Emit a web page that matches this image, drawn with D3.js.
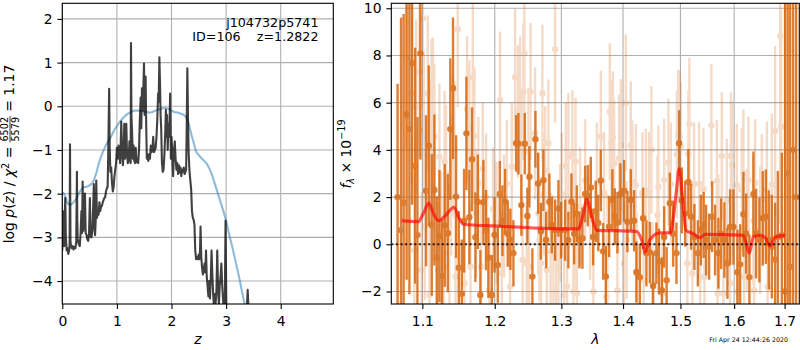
<!DOCTYPE html>
<html>
<head>
<meta charset="utf-8">
<script src="https://cdn.jsdelivr.net/npm/d3@7"></script>
<style>
html, body { margin: 0; padding: 0; background: #ffffff; }
svg { display: block; font-family: "DejaVu Sans", sans-serif; }
</style>
</head>
<body>
<svg id="fig" width="800" height="350"></svg>
<script>
// ---------- redshift probability panel ----------
const pzZ = [0.000,0.008,0.015,0.025,0.035,0.045,0.055,0.065,0.080,0.095,0.110,0.125,0.134,0.141,0.150,0.160,0.175,0.190,0.205,0.220,0.240,0.255,0.268,0.275,0.282,0.300,0.320,0.335,0.350,0.362,0.372,0.385,0.400,0.415,0.428,0.445,0.460,0.475,0.490,0.505,0.518,0.535,0.550,0.565,0.578,0.590,0.600,0.612,0.622,0.635,0.650,0.665,0.680,0.695,0.710,0.725,0.740,0.755,0.770,0.785,0.800,0.815,0.830,0.842,0.858,0.868,0.880,0.895,0.910,0.925,0.940,0.955,0.970,0.985,1.000,1.015,1.030,1.045,1.058,1.068,1.080,1.095,1.110,1.122,1.135,1.148,1.160,1.172,1.185,1.200,1.215,1.230,1.245,1.252,1.258,1.266,1.278,1.292,1.305,1.318,1.332,1.345,1.360,1.375,1.390,1.405,1.420,1.435,1.447,1.459,1.470,1.482,1.496,1.508,1.516,1.526,1.536,1.548,1.560,1.575,1.590,1.605,1.620,1.635,1.650,1.665,1.680,1.695,1.710,1.725,1.740,1.755,1.765,1.778,1.790,1.800,1.812,1.825,1.840,1.855,1.870,1.885,1.897,1.908,1.918,1.930,1.945,1.960,1.975,1.988,2.000,2.015,2.030,2.045,2.060,2.075,2.090,2.105,2.120,2.135,2.150,2.165,2.180,2.195,2.210,2.225,2.240,2.255,2.268,2.278,2.290,2.302,2.315,2.330,2.345,2.360,2.375,2.390,2.405,2.420,2.435,2.450,2.465,2.480,2.495,2.510,2.522,2.532,2.545,2.560,2.575,2.590,2.605,2.620,2.632,2.645,2.660,2.675,2.690,2.705,2.720,2.733,2.748,2.763,2.778,2.793,2.808,2.823,2.838,2.853,2.868,2.883,2.898,2.913,2.928,2.943,2.958,2.973,2.990,3.005,3.020,3.100,3.200,3.300,3.370,3.395,3.420,3.500];
const pzLogp = [-3.30,-2.40,-3.10,-2.80,-3.20,-2.45,-2.10,-3.00,-3.30,-3.25,-3.38,-3.30,-3.15,-0.87,-3.10,-3.20,-3.25,-3.20,-3.28,-3.22,-3.25,-3.10,-1.50,-2.60,-3.05,-3.15,-3.20,-2.90,-2.40,-2.90,-1.72,-2.85,-2.60,-2.00,-2.90,-2.95,-3.05,-3.08,-2.90,-2.10,-2.98,-3.00,-2.85,-2.30,-1.78,-2.80,-2.95,-2.60,-1.70,-2.55,-2.45,-2.48,-2.20,-2.40,-2.30,-2.28,-2.20,-2.15,-2.10,-2.08,-1.95,-1.88,-1.85,-1.00,0.40,-0.95,-1.50,-1.40,-1.75,-1.95,-1.85,-1.60,-1.45,-1.30,-0.95,-1.20,-0.90,-1.05,-1.30,-0.95,-0.35,-1.10,-1.35,-1.10,-0.40,-1.20,-1.00,-0.40,-1.10,-1.30,-1.25,-0.80,-1.20,-1.30,1.45,-0.20,-0.60,-1.20,-0.90,-1.25,-1.30,-0.95,-1.28,-1.20,-1.30,-1.00,-0.30,0.20,-0.50,0.41,-0.10,0.30,0.98,-0.20,0.10,0.68,-0.40,-1.20,-1.10,-1.25,-1.10,-1.20,-0.90,-1.05,-1.00,-0.70,-1.05,-1.00,-0.95,-0.70,-0.30,0.30,0.10,1.12,0.50,-0.20,-0.55,-1.30,-1.50,-1.45,-1.10,-0.60,-0.08,-0.70,-0.20,-1.00,-0.40,-0.70,0.29,-1.20,-0.70,-1.10,-1.60,-1.00,-0.80,-1.20,-1.45,-1.30,-1.55,-1.35,-1.52,-1.40,-1.60,-1.45,-1.50,-1.40,-1.55,-1.50,-1.45,-0.50,0.87,-0.30,-1.10,-1.50,-1.70,-1.90,-2.40,-2.55,-2.60,-2.70,-3.30,-3.50,-3.45,-3.50,-3.40,-3.50,-3.30,-2.75,-3.45,-3.70,-3.85,-3.75,-3.60,-3.80,-3.30,-3.90,-4.10,-4.35,-4.00,-4.40,-3.90,-3.30,-3.85,-4.30,-4.60,-4.30,-4.50,-4.20,-3.30,-4.20,-4.55,-4.10,-3.90,-3.60,-4.10,-4.40,-4.70,-4.80,-2.62,-4.70,-5.20,-5.50,-5.60,-5.40,-4.90,-4.20,-4.90,-6.00];

const priorZ = [0.00,0.02,0.05,0.08,0.11,0.15,0.19,0.23,0.27,0.31,0.35,0.39,0.43,0.47,0.51,0.55,0.59,0.63,0.67,0.71,0.75,0.79,0.83,0.87,0.91,0.95,0.99,1.03,1.07,1.11,1.15,1.19,1.23,1.27,1.31,1.35,1.40,1.45,1.50,1.55,1.60,1.65,1.70,1.75,1.80,1.85,1.90,1.95,2.00,2.05,2.10,2.15,2.20,2.25,2.29,2.32,2.35,2.38,2.41,2.45,2.50,2.55,2.60,2.65,2.70,2.75,2.80,2.85,2.90,2.95,3.00,3.05,3.10,3.15,3.20,3.25,3.30,3.35,3.40,3.45];
const priorLogp = [-2.00,-1.98,-2.05,-2.18,-2.24,-2.25,-2.22,-2.17,-2.08,-1.98,-1.90,-1.85,-1.85,-1.83,-1.80,-1.76,-1.65,-1.50,-1.30,-1.15,-1.02,-0.92,-0.82,-0.75,-0.65,-0.55,-0.47,-0.40,-0.33,-0.27,-0.22,-0.18,-0.15,-0.12,-0.10,-0.10,-0.10,-0.11,-0.12,-0.13,-0.15,-0.13,-0.10,-0.08,-0.06,-0.04,-0.04,-0.06,-0.10,-0.13,-0.14,-0.16,-0.18,-0.22,-0.30,-0.42,-0.58,-0.72,-0.85,-1.04,-1.12,-1.19,-1.25,-1.32,-1.44,-1.60,-1.80,-2.00,-2.20,-2.40,-2.62,-2.90,-3.15,-3.42,-3.70,-3.98,-4.30,-4.60,-4.90,-5.20];

const pzTicksX = [0, 1, 2, 3, 4];
const pzTicksY = [-4, -3, -2, -1, 0, 1, 2];

// ---------- spectrum panel ----------
// full-resolution extracted spectrum
const specWave = [1.0677,1.0722,1.0755,1.0794,1.0830,1.0865,1.0905,1.0935,1.0974,1.1049,1.1085,1.1125,1.1160,1.1192,1.1228,1.1264,1.1300,1.1341,1.1376,1.1413,1.1455,1.1492,1.1534,1.1566,1.1598,1.1639,1.1677,1.1724,1.1758,1.1794,1.1837,1.1875,1.1908,1.1957,1.1997,1.2044,1.2073,1.2111,1.2150,1.2189,1.2227,1.2272,1.2312,1.2346,1.2390,1.2441,1.2480,1.2510,1.2555,1.2601,1.2642,1.2683,1.2722,1.2764,1.2814,1.2851,1.2903,1.2954,1.2996,1.3059,1.3110,1.3158,1.3201,1.3244,1.3285,1.3333,1.3377,1.3420,1.3468,1.3506,1.3549,1.3590,1.3631,1.3669,1.3713,1.3768,1.3822,1.3862,1.3906,1.3956,1.4018,1.4074,1.4131,1.4187,1.4227,1.4285,1.4342,1.4399,1.4458,1.4516,1.4573,1.4617,1.4668,1.4709,1.4753,1.4810,1.4869,1.4928,1.4976,1.5025,1.5085,1.5144,1.5193,1.5254,1.5317,1.5372,1.5424,1.5470,1.5526,1.5582,1.5638,1.5700,1.5751,1.5814,1.5871,1.5922,1.5986,1.6063,1.6115,1.6179,1.6232,1.6296,1.6375,1.6428,1.6493,1.6561,1.6621,1.6681,1.6741,1.6808,1.6863,1.6944,1.7011,1.7062,1.7113,1.7175,1.7237];
const specFlux = [2.00,0.60,1.76,5.50,4.88,7.67,3.33,0.39,8.09,2.27,4.18,0.82,2.30,-0.57,0.35,-1.34,0.80,0.47,4.88,6.61,2.02,-0.99,-2.10,1.00,4.70,1.15,3.60,0.30,1.80,-2.15,1.78,0.60,-0.57,-2.15,0.40,-0.88,2.13,1.00,1.80,0.45,0.21,-0.38,4.28,4.26,1.66,4.26,1.20,2.86,-1.37,4.45,2.58,0.55,2.71,0.18,1.80,0.82,0.60,1.52,0.60,0.60,0.18,1.80,0.45,1.30,0.18,0.26,2.13,2.06,2.41,0.31,1.40,0.90,2.70,-0.30,-1.37,0.75,1.88,1.17,0.91,2.13,2.27,0.96,1.88,1.00,-1.17,-1.39,1.10,-0.38,-0.35,-1.77,-0.38,-0.73,-1.95,0.31,-1.52,1.74,0.45,-0.38,4.28,1.86,1.30,2.64,1.17,0.31,-0.38,0.60,0.82,0.18,-0.10,1.17,0.18,-0.38,0.45,0.18,-0.81,0.73,0.73,-1.18,-0.85,1.27,0.45,-1.39,2.13,0.45,0.18,1.10,1.17,0.18,-0.10,-0.64,0.31,0.38,-2.00,3.00,-0.95,4.00,2.00];
const specErr = [4.8,9.0,8.0,7.0,7.0,6.0,5.0,5.0,4.5,3.2,3.4,3.0,3.2,2.6,2.8,2.4,2.6,2.5,3.0,3.0,2.6,2.4,2.3,2.2,2.4,2.0,2.2,1.9,2.0,1.9,1.8,1.7,1.7,1.7,1.6,1.6,1.4,1.5,1.4,1.4,1.3,1.4,1.2,1.3,1.3,1.3,1.2,1.3,1.2,1.2,1.3,1.2,1.3,1.2,1.2,1.2,1.3,1.2,1.2,1.3,1.2,1.2,1.3,1.2,1.2,1.3,1.2,1.3,1.3,1.2,1.3,1.2,1.3,1.2,1.3,1.3,1.3,1.2,1.3,1.3,1.3,1.3,1.3,1.3,1.3,1.4,1.3,1.4,1.3,1.4,1.3,1.4,1.4,1.3,1.4,1.3,1.4,1.3,1.4,1.4,1.4,1.4,1.4,1.4,1.4,1.5,1.4,1.5,1.4,1.5,1.5,1.5,1.5,1.6,1.5,1.6,1.6,1.8,1.7,1.8,1.7,1.8,1.8,1.9,1.8,2.0,2.0,2.1,2.2,2.4,2.8,3.5,14.0,14.0,14.0,14.0,14.0];

// individual beam spectrum (drawn faint)
const beamWave = [1.0787,1.0861,1.0895,1.0918,1.0961,1.0990,1.1006,1.1019,1.1033,1.1072,1.1095,1.1109,1.1122,1.1141,1.1160,1.1206,1.1228,1.1251,1.1284,1.1298,1.1318,1.1363,1.1386,1.1409,1.1431,1.1448,1.1478,1.1570,1.1607,1.1639,1.1656,1.1687,1.1710,1.1734,1.1766,1.1804,1.1828,1.1875,1.1922,1.1976,1.2026,1.2077,1.2102,1.2135,1.2175,1.2223,1.2248,1.2297,1.2337,1.2371,1.2386,1.2408,1.2420,1.2435,1.2471,1.2495,1.2505,1.2528,1.2596,1.2646,1.2661,1.2687,1.2707,1.2726,1.2749,1.2775,1.2799,1.2833,1.2876,1.2903,1.2918,1.2954,1.2980,1.3007,1.3043,1.3069,1.3090,1.3110,1.3174,1.3189,1.3209,1.3224,1.3244,1.3296,1.3377,1.3457,1.3510,1.3566,1.3631,1.3685,1.3723,1.3739,1.3779,1.3806,1.3831,1.3851,1.3906,1.3934,1.3963,1.4018,1.4047,1.4060,1.4131,1.4158,1.4216,1.4230,1.4330,1.4351,1.4389,1.4446,1.4486,1.4503,1.4591,1.4608,1.4679,1.4709,1.4785,1.4828,1.4935,1.4958,1.4989,1.5007,1.5126,1.5144,1.5162,1.5217,1.5249,1.5341,1.5359,1.5420,1.5439,1.5568,1.5670,1.5685,1.5700,1.5764,1.5795,1.5859,1.5922,1.5937,1.5961,1.6051,1.6067,1.6148,1.6179,1.6193,1.6246,1.6277,1.6375,1.6389,1.6409,1.6507,1.6541,1.6641,1.6657,1.6741,1.6808,1.6909,1.6929];
const beamFlux = [7.88,6.40,-0.25,5.83,7.31,-1.09,9.58,4.84,0.75,6.40,-2.15,3.92,5.41,5.55,4.56,-1.09,3.71,0.18,-0.95,3.50,3.00,-0.38,2.50,4.20,4.00,-1.37,9.11,-1.65,5.72,4.90,-0.95,7.08,4.60,1.30,2.60,-0.95,3.20,2.00,-1.94,1.50,0.90,6.11,-1.24,1.20,2.58,-1.80,3.29,7.08,5.63,5.90,3.86,-0.66,6.47,8.09,-0.80,3.93,-0.95,6.47,4.70,1.30,0.18,-0.80,6.40,2.13,3.15,-1.09,4.28,-0.30,-0.52,8.26,-2.00,-0.95,0.90,2.13,-2.15,3.32,-1.80,3.71,3.83,-2.00,0.60,3.50,-2.07,1.60,2.70,1.00,-2.00,2.56,4.56,2.16,-2.22,-0.38,5.62,4.28,4.53,3.43,-1.95,3.64,4.20,-0.80,5.99,0.18,4.20,2.65,2.50,-1.24,2.16,-1.52,2.29,2.16,4.00,-1.65,1.24,2.44,-2.08,2.72,3.47,2.56,3.81,4.60,4.56,4.15,-0.80,3.83,5.10,-1.24,2.57,2.57,-1.38,2.33,-1.38,5.04,2.68,-2.08,0.45,3.74,-2.08,1.87,-1.65,3.74,3.36,2.50,-2.00,2.31,3.00,-1.38,0.60,2.71,1.00,-1.95,2.60,0.60,1.87,2.30,-1.80,2.54,4.80,8.83,4.98];
const beamErr = [3.8,3.8,3.5,3.7,3.6,3.3,3.8,3.3,3.1,3.3,3.1,3.1,3.3,3.2,3.1,2.9,3.1,2.9,2.9,3.0,2.9,2.8,2.9,3.0,2.9,2.8,3.3,2.8,3.1,2.9,2.7,3.1,2.9,2.7,2.8,2.7,2.8,2.7,2.7,2.6,2.6,2.9,2.6,2.6,2.7,2.6,2.7,2.9,2.8,2.9,2.7,2.6,2.9,3.0,2.6,2.7,2.6,2.9,2.8,2.6,2.6,2.6,2.9,2.6,2.7,2.6,2.7,2.5,2.6,3.1,2.6,2.6,2.5,2.6,2.6,2.7,2.6,2.7,2.7,2.6,2.5,2.7,2.6,2.5,2.6,2.5,2.6,2.6,2.8,2.6,2.6,2.5,2.9,2.7,2.8,2.7,2.6,2.7,2.8,2.6,2.9,2.5,2.7,2.6,2.6,2.6,2.6,2.6,2.6,2.6,2.7,2.6,2.5,2.6,2.6,2.6,2.7,2.6,2.7,2.8,2.8,2.7,2.6,2.7,2.8,2.6,2.6,2.6,2.6,2.6,2.6,2.6,2.6,2.6,2.5,2.7,2.6,2.6,2.6,2.7,2.7,2.6,2.6,2.6,2.7,2.6,2.6,2.7,2.7,2.7,2.7,2.7,2.8,2.9,2.9,3.0,3.6,8.0,5.0];

// best-fit template model
const modelWave = [1.0731,1.0947,1.1013,1.1085,1.1146,1.1214,1.1304,1.1427,1.1487,1.1556,1.2029,1.2520,1.3031,1.3268,1.3348,1.3403,1.3483,1.3565,1.4118,1.4233,1.4319,1.4376,1.4462,1.4637,1.4814,1.4873,1.4934,1.4975,1.5042,1.5101,1.5234,1.5358,1.5450,1.5921,1.6178,1.6231,1.6295,1.6373,1.6506,1.6606,1.6706,1.6807,1.7010];
const modelFlux = [1.00,0.96,1.31,1.74,1.31,1.00,1.20,1.57,1.16,0.85,0.77,0.70,0.65,0.65,1.30,1.90,1.16,0.59,0.56,0.54,0.16,-0.33,0.20,0.48,0.48,1.16,2.40,3.20,1.84,0.59,0.45,0.28,0.42,0.40,0.38,0.04,-0.38,0.31,0.38,0.28,-0.08,0.31,0.38];

const specTicksX = [1.1, 1.2, 1.3, 1.4, 1.5, 1.6, 1.7];
const specTicksY = [-2, 0, 2, 4, 6, 8, 10];

// ---------- figure layout ----------
const svg = d3.select("#fig");
const FS = 13.9;            // tick / axis label size
const GRID = "#b0b0b0";
const SPEC_COLOR = "#d55e00";

const L = { x0: 62.3, x1: 333.3, y0: 3.3, y1: 304 };
const R = { x0: 391.3, x1: 799.3, y0: 3.3, y1: 304 };

const xL = d3.scaleLinear().domain([0, 4.963]).range([L.x0, L.x1]);
const yL = d3.scaleLinear().domain([-4.525, 2.357]).range([L.y1, L.y0]);
const xR = d3.scaleLog().domain([1.0597, 1.7303]).range([R.x0, R.x1]);
const yR = d3.scaleLinear().domain([-2.53, 10.21]).range([R.y1, R.y0]);

const defs = svg.append("defs");
defs.append("clipPath").attr("id", "clipL").append("rect")
  .attr("x", L.x0).attr("y", L.y0).attr("width", L.x1 - L.x0).attr("height", L.y1 - L.y0);
defs.append("clipPath").attr("id", "clipR").append("rect")
  .attr("x", R.x0).attr("y", R.y0).attr("width", R.x1 - R.x0).attr("height", R.y1 - R.y0);

function grid(box, xs, ys, xt, yt) {
  const g = svg.append("g").attr("stroke", GRID).attr("stroke-width", 1.1);
  g.selectAll(".gx").data(xt).join("line")
    .attr("x1", d => xs(d)).attr("x2", d => xs(d)).attr("y1", box.y0).attr("y2", box.y1);
  g.selectAll(".gy").data(yt).join("line")
    .attr("y1", d => ys(d)).attr("y2", d => ys(d)).attr("x1", box.x0).attr("x2", box.x1);
}

function axes(box, xs, ys, xt, yt, xfmt, yfmt) {
  const ax = svg.append("g").attr("transform", `translate(0,${box.y1})`)
    .call(d3.axisBottom(xs).tickValues(xt).tickFormat(xfmt).tickSize(4.9).tickSizeOuter(0).tickPadding(7.7));
  const ay = svg.append("g").attr("transform", `translate(${box.x0},0)`)
    .call(d3.axisLeft(ys).tickValues(yt).tickFormat(yfmt).tickSize(4.9).tickSizeOuter(0).tickPadding(4.9));
  [ax, ay].forEach(a => {
    a.select(".domain").remove();
    a.selectAll("line").attr("stroke", "#000").attr("stroke-width", 1.1);
    a.selectAll("text").attr("font-size", FS).attr("font-family", "DejaVu Sans").attr("fill", "#000");
  });
  svg.append("rect").attr("x", box.x0).attr("y", box.y0)
    .attr("width", box.x1 - box.x0).attr("height", box.y1 - box.y0)
    .attr("fill", "none").attr("stroke", "#000").attr("stroke-width", 1.1);
}

// ---------- left: log p(z) ----------
grid(L, xL, yL, pzTicksX, pzTicksY);
const gL = svg.append("g").attr("clip-path", "url(#clipL)");

gL.append("path")
  .datum(priorZ.map((z, i) => [z, priorLogp[i]]))
  .attr("fill", "none").attr("stroke", "#1f77b4").attr("stroke-opacity", 0.5)
  .attr("stroke-width", 2.1).attr("stroke-linejoin", "round")
  .attr("d", d3.line().x(d => xL(d[0])).y(d => yL(d[1])));

gL.append("path")
  .datum(pzZ.map((z, i) => [z, pzLogp[i]]))
  .attr("fill", "none").attr("stroke", "#000").attr("stroke-opacity", 0.75)
  .attr("stroke-width", 2.1).attr("stroke-linejoin", "round")
  .attr("d", d3.line().x(d => xL(d[0])).y(d => yL(d[1])));

axes(L, xL, yL, pzTicksX, pzTicksY, d3.format("d"), d3.format("d"));

const ann = svg.append("g").attr("font-size", 12.7).attr("text-anchor", "end").attr("fill", "#000");
ann.append("text").attr("x", 318.5).attr("y", 26.5).text("j104732p5741");
ann.append("text").attr("x", 318.5).attr("y", 40.5).style("white-space", "pre").text("ID=106    z=1.2822");

svg.append("text").attr("x", (L.x0 + L.x1) / 2).attr("y", 344)
  .attr("text-anchor", "middle").attr("font-size", FS).attr("font-style", "italic").text("z");

// y label: log p(z) / chi^2 = 6502/5579 = 1.17
{
  const outer = svg.append("g").attr("transform", "translate(14,154) rotate(-90)");
  const g = outer.append("g");
  const t = g.append("text").attr("font-size", FS).attr("fill", "#000");
  t.append("tspan").text("log\u00a0");
  t.append("tspan").attr("font-style", "italic").text("p");
  t.append("tspan").text("(");
  t.append("tspan").attr("font-style", "italic").text("z");
  t.append("tspan").text(")\u00a0/\u00a0");
  t.append("tspan").attr("font-style", "italic").text("\u03c7");
  t.append("tspan").attr("font-size", 9.7).attr("dy", -5.5).text("2");
  t.append("tspan").attr("dy", 5.5).text("\u00a0=\u00a0");
  const L1 = t.node().getComputedTextLength();
  const num = g.append("text").attr("font-size", 9.7).attr("text-anchor", "middle").text("6502");
  const fw = num.node().getComputedTextLength() + 1.5;
  num.attr("x", L1 + fw / 2).attr("y", -5.8);
  g.append("text").attr("font-size", 9.7).attr("text-anchor", "middle")
    .attr("x", L1 + fw / 2).attr("y", 5.2).text("5579");
  g.append("line").attr("x1", L1).attr("x2", L1 + fw).attr("y1", -4.0).attr("y2", -4.0)
    .attr("stroke", "#000").attr("stroke-width", 0.8);
  const t2 = g.append("text").attr("font-size", FS).attr("x", L1 + fw).text("\u00a0=\u00a01.17");
  const total = L1 + fw + t2.node().getComputedTextLength();
  g.attr("transform", `translate(${-total / 2},0)`);
}

// ---------- right: spectrum ----------
grid(R, xR, yR, specTicksX, specTicksY);
const gR = svg.append("g").attr("clip-path", "url(#clipR)");

const beam = beamWave.map((w, i) => ({ w, f: beamFlux[i], e: beamErr[i] }));
const spec = specWave.map((w, i) => ({ w, f: specFlux[i], e: specErr[i] }));

const gB = gR.append("g").attr("opacity", 0.22);
gB.selectAll("line").data(beam).join("line")
  .attr("x1", d => xR(d.w)).attr("x2", d => xR(d.w))
  .attr("y1", d => yR(d.f - d.e)).attr("y2", d => yR(d.f + d.e))
  .attr("stroke", SPEC_COLOR).attr("stroke-width", 2.4);
gB.selectAll("circle").data(beam).join("circle")
  .attr("cx", d => xR(d.w)).attr("cy", d => yR(d.f)).attr("r", 3.2)
  .attr("fill", SPEC_COLOR);

const gS = gR.append("g").attr("opacity", 0.8);
gS.selectAll("line").data(spec).join("line")
  .attr("x1", d => xR(d.w)).attr("x2", d => xR(d.w))
  .attr("y1", d => yR(d.f - d.e)).attr("y2", d => yR(d.f + d.e))
  .attr("stroke", SPEC_COLOR).attr("stroke-width", 2.4);
gS.selectAll("circle").data(spec).join("circle")
  .attr("cx", d => xR(d.w)).attr("cy", d => yR(d.f)).attr("r", 3.2)
  .attr("fill", SPEC_COLOR);

gR.append("path")
  .datum(modelWave.map((w, i) => [w, modelFlux[i]]))
  .attr("fill", "none").attr("stroke", "#ff0000").attr("stroke-opacity", 0.65)
  .attr("stroke-width", 3.2).attr("stroke-linejoin", "round")
  .attr("d", d3.line().curve(d3.curveMonotoneX).x(d => xR(d[0])).y(d => yR(d[1])));

gR.append("line")
  .attr("x1", R.x0).attr("x2", R.x1).attr("y1", yR(0)).attr("y2", yR(0))
  .attr("stroke", "#000").attr("stroke-width", 2).attr("stroke-opacity", 0.8)
  .attr("stroke-dasharray", "2,2.6");

axes(R, xR, yR, specTicksX, specTicksY, d3.format(".1f"), d3.format("d"));

svg.append("text").attr("x", (R.x0 + R.x1) / 2).attr("y", 344)
  .attr("text-anchor", "middle").attr("font-size", FS).attr("font-style", "italic").text("\u03bb");

{
  const g = svg.append("g").attr("transform", "translate(350.5,154) rotate(-90)");
  const t = g.append("text").attr("font-size", FS).attr("text-anchor", "middle").attr("fill", "#000");
  t.append("tspan").attr("font-style", "italic").text("f");
  t.append("tspan").attr("font-size", 9.7).attr("font-style", "italic").attr("dy", 3).text("\u03bb");
  t.append("tspan").attr("dy", -3).text("\u00a0\u00d7\u00a010");
  t.append("tspan").attr("font-size", 9.7).attr("dy", -5.5).text("\u221219");
}

svg.append("text").attr("x", 788).attr("y", 341.5).attr("text-anchor", "end")
  .attr("font-size", 6.3).text("Fri Apr 24 12:44:26 2020");
</script>
</body>
</html>
